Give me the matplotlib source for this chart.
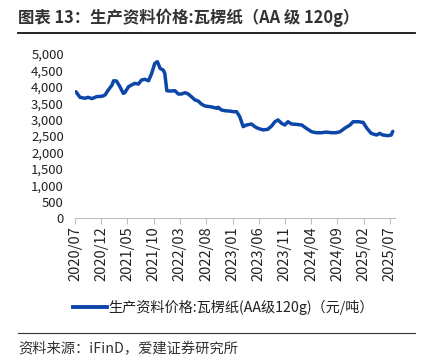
import matplotlib
matplotlib.use("Agg")
import matplotlib.pyplot as plt
from matplotlib.lines import Line2D
import pandas as pd

plt.rcParams['font.family'] = ['Noto Sans CJK SC', 'DejaVu Sans']

dates = ["2020-07-06", "2020-07-30", "2020-08-28", "2020-09-15", "2020-10-07", "2020-11-04",
         "2020-12-04", "2020-12-22", "2021-01-10", "2021-02-01", "2021-02-10", "2021-02-27",
         "2021-03-19", "2021-04-07", "2021-04-16", "2021-05-07", "2021-05-25", "2021-06-13",
         "2021-07-04", "2021-07-22", "2021-08-10", "2021-09-01", "2021-09-19", "2021-10-07",
         "2021-10-22", "2021-11-07", "2021-11-25", "2021-12-04", "2021-12-16", "2022-01-04",
         "2022-02-01", "2022-02-21", "2022-03-10", "2022-04-01", "2022-04-19", "2022-05-07",
         "2022-05-28", "2022-06-16", "2022-07-04", "2022-07-25", "2022-08-22", "2022-09-10",
         "2022-10-01", "2022-10-10", "2022-10-28", "2022-11-19", "2022-12-16", "2023-01-07",
         "2023-01-25", "2023-02-12", "2023-03-04", "2023-03-22", "2023-04-22", "2023-05-10",
         "2023-05-28", "2023-06-28", "2023-07-25", "2023-08-16", "2023-09-04", "2023-09-22",
         "2023-10-13", "2023-11-01", "2023-11-19", "2023-12-10", "2024-01-07", "2024-02-07",
         "2024-03-04", "2024-04-04", "2024-05-01", "2024-06-01", "2024-06-28", "2024-07-28",
         "2024-08-25", "2024-09-16", "2024-10-13", "2024-11-13", "2024-12-01", "2025-01-01",
         "2025-01-28", "2025-02-19", "2025-03-16", "2025-04-16", "2025-05-04", "2025-05-22",
         "2025-06-22", "2025-07-10", "2025-07-19"]
prices = [3850, 3680, 3650, 3680, 3640, 3700,
          3710, 3750, 3900, 4055, 4185, 4175,
          4000, 3800, 3820, 4000, 4055, 4105,
          4085, 4205, 4230, 4185, 4410, 4715,
          4765, 4560, 4510, 4410, 3880, 3870,
          3880, 3780, 3780, 3820, 3780, 3700,
          3600, 3565, 3475, 3415, 3395, 3375,
          3345, 3375, 3295, 3270, 3260, 3240,
          3240, 3090, 2785, 2835, 2865, 2785,
          2735, 2685, 2705, 2805, 2935, 2990,
          2885, 2835, 2935, 2865, 2855, 2835,
          2735, 2630, 2600, 2600, 2620, 2600,
          2600, 2630, 2735, 2835, 2935, 2935,
          2915, 2735, 2580, 2530, 2580, 2530,
          2510, 2530, 2640]
tick_labels = ["2020/07", "2020/12", "2021/05", "2021/10", "2022/03", "2022/08", "2023/01",
               "2023/06", "2023/11", "2024/04", "2024/09", "2025/02", "2025/07"]
yticks = [0, 500, 1000, 1500, 2000, 2500, 3000, 3500, 4000, 4500, 5000]

title = "图表 13：生产资料价格:瓦楞纸（AA 级 120g）"
legend_label = "生产资料价格:瓦楞纸(AA级120g)（元/吨）"
source = "资料来源：iFinD，爱建证券研究所"

W, H = 425, 359
fig = plt.figure(figsize=(W / 100, H / 100), dpi=100)
ax = fig.add_axes([75 / W, 1 - 218 / H, (395 - 75) / W, (218 - 54) / H])

x = pd.to_datetime(dates)
color = "#0b47a8"
ax.plot(x, prices, color=color, lw=2.5, solid_joinstyle="round", solid_capstyle="round")

ax.set_ylim(0, 5000)
ax.set_yticks(yticks)
ax.set_yticklabels([f"{v:,}" for v in yticks], fontsize=9.5, color="#222222")
tick_dates = pd.to_datetime([t.replace("/", "-") + "-01" for t in tick_labels])
ax.set_xticks(tick_dates)
ax.set_xticklabels(tick_labels, rotation=90, fontsize=10.5, color="#222222")
ax.set_xlim(pd.Timestamp("2020-07-01"), pd.Timestamp("2025-08-01"))

for s in ["top", "right", "left"]:
    ax.spines[s].set_visible(False)
ax.spines["bottom"].set_color("#bfbfbf")
ax.spines["bottom"].set_linewidth(0.8)
ax.tick_params(axis="y", length=0, pad=8)
ax.tick_params(axis="x", length=4, color="#bfbfbf", width=0.8, pad=2)

# title
fig.text(18 / W, 1 - 18 / H, title, fontsize=11.8, fontweight="bold", color="#333333",
         ha="left", va="center")
fig.add_artist(Line2D([18 / W, 415 / W], [1 - 33 / H, 1 - 33 / H], color="#111111", lw=1.3))

# legend
fig.add_artist(Line2D([73 / W, 107 / W], [1 - 307 / H, 1 - 307 / H], color=color, lw=2.8))
fig.text(108 / W, 1 - 307 / H, legend_label, fontsize=10.2, color="#222222", ha="left", va="center")

# source
fig.add_artist(Line2D([18 / W, 415 / W], [1 - 333 / H, 1 - 333 / H], color="#333333", lw=0.8))
fig.text(18 / W, 1 - 349 / H, source, fontsize=10.3, color="#333333", ha="left", va="center")

fig.savefig("out.png", dpi=100)
